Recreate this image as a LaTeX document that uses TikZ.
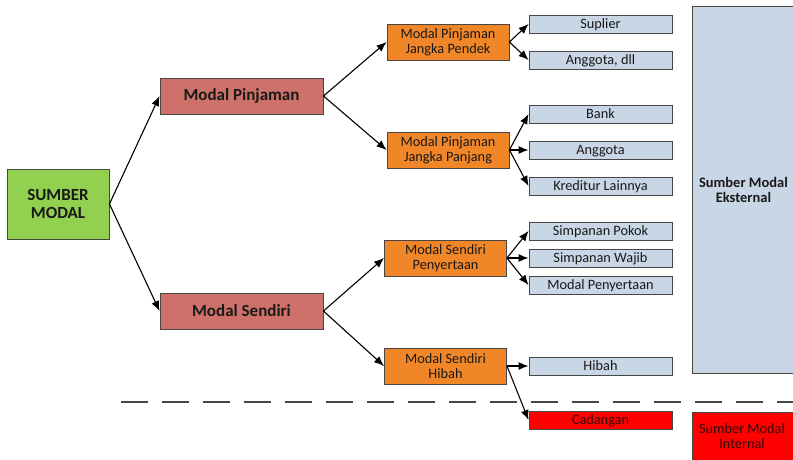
\documentclass[tikz,border=0pt]{standalone}
\usepackage{fontspec}
\setmainfont{Carlito}
\usetikzlibrary{arrows.meta}

\definecolor{hijau}{RGB}{146,208,80}
\definecolor{merah}{RGB}{205,113,106}
\definecolor{oranye}{RGB}{240,134,40}
\definecolor{biru}{RGB}{200,214,230}
\definecolor{garis}{RGB}{70,70,70}
\definecolor{tulisan}{RGB}{50,10,10}

\begin{document}
\begin{tikzpicture}[x=1pt, y=-1pt,
    box/.style={draw=garis, line width=0.9pt, inner sep=0pt, align=center, text=black!90},
    akar/.style={box, fill=hijau, minimum width=102pt, minimum height=70pt, font=\fontsize{17}{18}\selectfont\bfseries},
    induk/.style={box, fill=merah, minimum width=163pt, minimum height=36pt, font=\fontsize{17}{19}\selectfont\bfseries},
    cabang/.style={box, fill=oranye, minimum width=122pt, minimum height=36pt, font=\fontsize{14.3}{15}\selectfont},
    daun/.style={box, fill=biru, minimum width=143pt, minimum height=18pt, text height=10pt, text depth=1pt, font=\fontsize{14.3}{15}\selectfont},
    panah/.style={-{Latex[length=10pt,width=8pt]}, line width=1.1pt}]

   \useasboundingbox (0,0) rectangle (793,460);

   \node [akar] (sumber) at (58,204) {SUMBER\\MODAL};

   \foreach \n/\y/\t in {pinjaman/96/Modal Pinjaman, sendiri/311/Modal Sendiri}
     \node [induk] (\n) at (241.5,\y) {\t};

   \foreach \n/\x/\y/\t in {pendek/448/42/Modal Pinjaman\\Jangka Pendek,
                            panjang/448/150/Modal Pinjaman\\Jangka Panjang,
                            sertaan/445.5/258/Modal Sendiri\\Penyertaan,
                            hibahx/445.5/366/Modal Sendiri\\Hibah}
     \node [cabang] (\n) at (\x,\y) {\t};

   \foreach \n/\y/\t in {suplier/24/Suplier, anggotadll/60/{Anggota, dll},
                         bank/114/Bank, anggota/150/Anggota, kreditur/186/Kreditur Lainnya,
                         pokok/231/Simpanan Pokok, wajib/258/Simpanan Wajib,
                         penyertaan/285/Modal Penyertaan, hibah/366/Hibah}
     \node [daun] (\n) at (600.5,\y) {\t};

   \node [daun, fill=red, text=tulisan] (cadangan) at (600.5,420) {Cadangan};

   % sumber modal eksternal / internal
   \node [box, fill=biru, anchor=north west, minimum width=102pt, minimum height=367pt,
          font=\fontsize{14.5}{15.5}\selectfont\bfseries] (eksternal) at (692,6) {Sumber Modal\\Eksternal};
   \node [box, fill=red, anchor=north west, minimum width=102pt, minimum height=60pt] (internal) at (692,412) {};
   \node [align=center, inner sep=0pt, text=tulisan, font=\fontsize{14.3}{15.5}\selectfont] (internallbl) at (742,436) {Sumber Modal\\Internal};

   \coordinate (batas1) at (121,402);
   \coordinate (batas2) at (793,402);
   \draw [garis, line width=1.3pt, dash pattern=on 27pt off 14pt] (batas1) -- (batas2);

   \foreach \i/\j in {sumber/pinjaman, sumber/sendiri,
                      pinjaman/pendek, pinjaman/panjang,
                      sendiri/sertaan, sendiri/hibahx,
                      pendek/suplier, pendek/anggotadll,
                      panjang/bank, panjang/anggota, panjang/kreditur,
                      sertaan/pokok, sertaan/wajib, sertaan/penyertaan,
                      hibahx/hibah, hibahx/cadangan}
     \draw [panah] (\i.east) -- (\j.west);

\end{tikzpicture}
\end{document}
